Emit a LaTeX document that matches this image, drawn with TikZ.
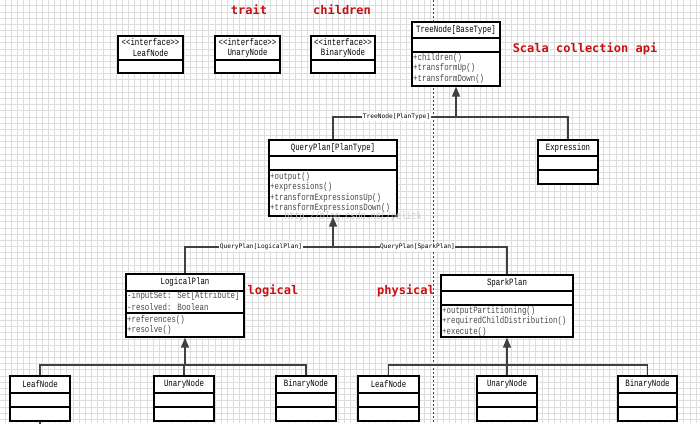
\documentclass[tikz,border=0pt]{standalone}
\usepackage{fontspec}
\usetikzlibrary{arrows.meta,fit}
\newfontfamily\umlfont[FakeStretch=0.77]{Liberation Mono}
\newfontfamily\redfont{DejaVu Sans Mono}
\newfontfamily\lblfont{DejaVu Sans Mono}
\definecolor{redtxt}{RGB}{200,16,16}
\definecolor{linec}{RGB}{64,64,64}
\definecolor{gridc}{RGB}{222,222,222}
\begin{document}
\begin{tikzpicture}[x=1pt,y=-1pt,
 box/.style={draw=black,line width=1.3pt,fill=white,inner sep=0pt},
 sep/.style={draw=black,line width=1.3pt},
 cname/.style={inner sep=0pt,font=\umlfont\fontsize{9.6}{11}\selectfont,text=black},
 member/.style={inner sep=0pt,anchor=west,font=\umlfont\fontsize{9.6}{11}\selectfont,text=black!72},
 conn/.style={draw=linec,line width=1.5pt},
 inh/.style={conn,-{Triangle[width=8pt,length=10pt]}},
 elabel/.style={fill=white,inner sep=0.6pt,font=\lblfont\fontsize{6.2}{7}\selectfont,text=black},
 note/.style={inner sep=0pt,font=\redfont\bfseries\fontsize{12}{14}\selectfont,text=redtxt},
]
% background and grid
\fill[white] (0,0) rectangle (700,423);
\useasboundingbox (0,0) rectangle (700,423);
\foreach \i in {0,...,113} \draw[gridc,line width=0.5pt] ({5+6.17*\i},0) -- ({5+6.17*\i},423);
\foreach \i in {0,...,68} \draw[gridc,line width=0.5pt] (0,{5.7+6.17*\i}) -- (700,{5.7+6.17*\i});

% dashed divider
\coordinate (dtop) at (433,0);
\coordinate (dbot) at (433,423);
\draw[linec,line width=0.8pt,dash pattern=on 2pt off 2pt] (dtop) -- (dbot);

% red notes
\node[note] (ntrait) at (249,10) {trait};
\node[note] (nchild) at (342,10) {children};
\node[note] (nscala) at (585,49) {Scala collection api};
\node[note] (nlog) at (273,291) {logical};
\node[note] (nphys) at (406,291) {physical};

% interface boxes
\node[box,fit={(118,36)(183,73)}] (ileaf) {};
\draw[sep] (118,60) -- (183,60);
\node[cname] at (150.5,42) {<<interface>>};
\node[cname] at (150.5,53) {LeafNode};
\node[box,fit={(215,36)(280,73)}] (iunary) {};
\draw[sep] (215,60) -- (280,60);
\node[cname] at (247.5,42) {<<interface>>};
\node[cname] at (247.5,53) {UnaryNode};
\node[box,fit={(311,36)(375,73)}] (ibinary) {};
\draw[sep] (311,60) -- (375,60);
\node[cname] at (343,42) {<<interface>>};
\node[cname] at (343,53) {BinaryNode};

% TreeNode
\node[box,fit={(412,22)(500,86)}] (tree) {};
\draw[sep] (412,38) -- (500,38);
\draw[sep] (412,52) -- (500,52);
\node[cname] at (456,30) {TreeNode[BaseType]};
\node[member] at (413,58) {+children()};
\node[member] at (413,68.5) {+transformUp()};
\node[member] at (413,79) {+transformDown()};

% QueryPlan
\node[box,fit={(269,140)(397,216)}] (qp) {};
\draw[sep] (269,156) -- (397,156);
\draw[sep] (269,170) -- (397,170);
\node[cname] at (333,148) {QueryPlan[PlanType]};
\node[member] at (270,177) {+output()};
\node[member] at (270,187.5) {+expressions()};
\node[member] at (270,198) {+transformExpressionsUp()};
\node[member] at (270,208.5) {+transformExpressionsDown()};

% Expression
\node[box,fit={(538,140)(598,184)}] (expr) {};
\draw[sep] (538,156) -- (598,156);
\draw[sep] (538,170) -- (598,170);
\node[cname] at (568,148) {Expression};

% watermark
\node[inner sep=0pt,font=\umlfont\fontsize{11}{12}\selectfont,text=black!20] (wm) at (353,217) {http://blog.csdn.net/pelick};

% LogicalPlan
\node[box,fit={(126,274)(244,337)}] (lp) {};
\draw[sep] (126,291) -- (244,291);
\draw[sep] (126,313) -- (244,313);
\node[cname] at (185,282.5) {LogicalPlan};
\node[member] at (127,296.5) {-inputSet: Set[Attribute]};
\node[member] at (127,307) {-resolved: Boolean};
\node[member] at (127,320) {+references()};
\node[member] at (127,330.5) {+resolve()};

% SparkPlan
\node[box,fit={(441,275)(573,337)}] (sp) {};
\draw[sep] (441,291) -- (573,291);
\draw[sep] (441,305) -- (573,305);
\node[cname] at (507,283) {SparkPlan};
\node[member] at (442,311) {+outputPartitioning()};
\node[member] at (442,321.5) {+requiredChildDistribution()};
\node[member] at (442,332) {+execute()};

% bottom boxes
\foreach \n/\l/\r/\t in {lleaf/10/70/LeafNode, lunary/154/214/UnaryNode, lbinary/276/336/BinaryNode,
                          rleaf/358/419/LeafNode, runary/477/537/UnaryNode, rbinary/618/677/BinaryNode}{
  \node[box,fit={(\l,376)(\r,421)}] (\n) {};
  \draw[sep] (\l,393) -- (\r,393);
  \draw[sep] (\l,407) -- (\r,407);
  \node[cname] at ({(\l+\r)/2},384.5) {\t};
}

% connectors: TreeNode
\coordinate (j1) at (456,117);
\draw[conn] (qp.north) |- (j1);
\draw[conn] (expr.north) |- (j1);
\draw[inh] (j1) -- (tree.south);
\node[elabel] (l1) at (396.5,117) {TreeNode[PlanType]};

% connectors: QueryPlan
\coordinate (j2) at (333,247);
\draw[conn] (lp.north) |- (j2);
\draw[conn] (sp.north) |- (j2);
\draw[inh] (j2) -- (qp.south);
\node[elabel] (l2) at (261,247) {QueryPlan[LogicalPlan]};
\node[elabel] (l3) at (417.5,247) {QueryPlan[SparkPlan]};

% connectors: LogicalPlan children
\coordinate (j3) at (185,365);
\draw[conn] (lleaf.north) |- (j3);
\draw[conn] (lbinary.north) |- (j3);
\draw[conn] (lunary.north) -- (lunary.north |- j3);
\draw[inh] (j3) -- (lp.south);

% connectors: SparkPlan children
\coordinate (j4) at (507,365);
\draw[conn] (rleaf.north) |- (j4);
\draw[conn] (rbinary.north) |- (j4);
\draw[inh] (runary.north) -- (sp.south);

% line leaving the picture below the left LeafNode
\coordinate (off) at (40,430);
\draw[conn] (lleaf.south) -- (off);
\end{tikzpicture}
\end{document}
